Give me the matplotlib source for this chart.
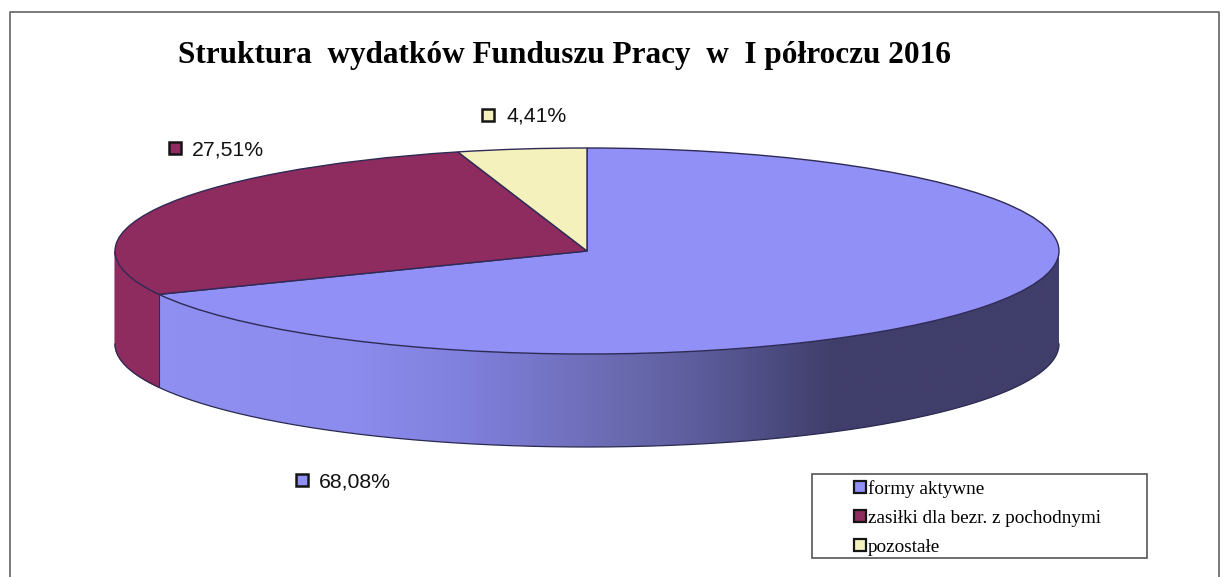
import numpy as np
import matplotlib
matplotlib.use("Agg")
import matplotlib.pyplot as plt
from matplotlib.colors import LinearSegmentedColormap
from matplotlib.patches import Patch, Polygon, Rectangle

categories = ["formy aktywne", "zasiłki dla bezr. z pochodnymi", "pozostałe"]
values = [68.08, 27.51, 4.41]
title = "Struktura  wydatków Funduszu Pracy  w  I półroczu 2016"

TOP = ["#9090F6", "#8E2B5F", "#F4F1BC"]
EDGE = "#2E2A55"
W, H = 1232, 577
CX, CY, RX, RY, DEPTH = 587, 251, 472, 103, 93


def ux(px):
    return (px - CX) / RX


def uy(py):
    return (CY - py) / RY


fig = plt.figure(figsize=(W / 100, H / 100), dpi=100, facecolor="white")
ax = fig.add_axes([0, 0, 1, 1])
xlim = (ux(0), ux(W))
ylim = (uy(H), uy(0))
depth = DEPTH / RY

ends = np.cumsum(values) / np.sum(values) * 2 * np.pi


def wall(t0, t1):
    t = np.linspace(t0, t1, 200)
    x, y = np.sin(t), np.cos(t)
    return np.r_[np.c_[x, y], np.c_[x, y - depth][::-1]]


# side walls
blue_wall = Polygon(wall(np.pi / 2, ends[0]), closed=True, facecolor="none", edgecolor="none", zorder=1)
ax.add_patch(blue_wall)
cmap = LinearSegmentedColormap.from_list(
    "side",
    [(0, "#403E6A"), (0.24, "#403E6A"), (0.38, "#5C5C9C"), (0.465, "#6A6AB0"), (0.624, "#7F7FDC"), (0.75, "#8C8CEE"), (1, "#9090F2")],
)
grad = np.linspace(1, 0, 512).reshape(1, -1)
im = ax.imshow(grad, extent=(-1, 1, -1 - depth, 1), aspect="auto", cmap=cmap, vmin=0, vmax=1, zorder=1)
im.set_clip_path(blue_wall)
ax.add_patch(Polygon(wall(ends[0], 3 * np.pi / 2), closed=True, facecolor=TOP[1], edgecolor=TOP[1], lw=0.8, zorder=1))
wall_t = np.linspace(np.pi / 2, 3 * np.pi / 2, 300)
ax.plot(np.sin(wall_t), np.cos(wall_t) - depth, color="#2A2A50", lw=0.9, zorder=2)
ax.plot([np.sin(ends[0])] * 2, [np.cos(ends[0]), np.cos(ends[0]) - depth], color=EDGE, lw=0.8, zorder=2)

# top face
wedges, _ = ax.pie(
    values, colors=TOP, startangle=90, counterclock=False, radius=1, center=(0, 0),
    wedgeprops=dict(edgecolor=EDGE, linewidth=1.0, zorder=3),
)
for w in wedges:
    w.set_zorder(3)
ax.set_aspect("auto")
ax.set_xlim(xlim)
ax.set_ylim(ylim)
ax.axis("off")

# frame
ax.plot([ux(10), ux(10), ux(1219), ux(1219)], [uy(578), uy(12), uy(12), uy(578)], color="#6E6E6E", lw=1.3, zorder=1, clip_on=False)

# title
ax.text(ux(178), uy(63), title, family="Liberation Serif", weight="bold", fontsize=22.5, color="black", va="baseline", ha="left")

# data labels: (marker x, text x, centre y)
label_pos = [(302, 319, 480), (175, 192, 148), (488, 507, 115)]
for v, c, (mx, tx, py) in zip(values, TOP, label_pos):
    ax.plot([ux(mx)], [uy(py)], marker="s", ms=8, mfc=c, mec="#151515", mew=1.8, zorder=5, ls="none")
    ax.text(ux(tx), uy(py + 7), f"{v:.2f}%".replace(".", ","), family="Liberation Sans", fontsize=15.3, color="#111111", va="baseline", ha="left")

# legend
ax.add_patch(Rectangle((ux(812), uy(558)), ux(1147) - ux(812), uy(474) - uy(558), facecolor="white", edgecolor="#555555", lw=1.2, zorder=4))
handles = [Patch(facecolor=c, edgecolor="#151515", linewidth=1.6, label=l) for c, l in zip(TOP, categories)]
leg = ax.legend(
    handles=handles, loc="upper left", bbox_to_anchor=(848 / W, 1 - 474 / H), frameon=False,
    prop={"family": "Liberation Serif", "size": 13.8}, handlelength=0.6, handleheight=0.6,
    handletextpad=0.12, labelspacing=0.63, borderpad=0.32, borderaxespad=0,
)
leg.set_zorder(6)

fig.savefig("out.png", dpi=100, facecolor="white")
